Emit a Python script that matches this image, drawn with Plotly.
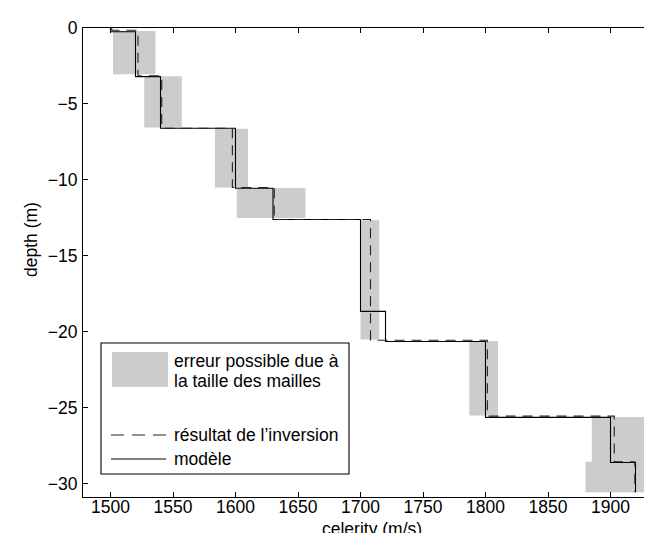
import plotly.graph_objects as go

# ---------------- data ----------------
# true model (solid line): celerity per layer and layer boundaries (depth, m)
model_celerity = [1500, 1520, 1540, 1600, 1630, 1700, 1720, 1800, 1900, 1920]
model_bounds = [0, -0.25, -3.2, -6.6, -10.55, -12.6, -18.65, -20.63, -25.63, -28.6, -30.55]

# inversion result (dashed line)
inv_celerity = [1501, 1522, 1541, 1597.5, 1631, 1708, 1801.5, 1903, 1919.5]
inv_bounds = [0, -0.15, -3.15, -6.6, -10.5, -12.6, -20.55, -25.55, -28.55, -30.55]

# possible error due to mesh size (grey boxes)
box_left = [1502, 1527, 1583.5, 1601, 1700, 1700, 1787, 1885, 1880]
box_right = [1536, 1557, 1610, 1656, 1715, 1715, 1810, 1927, 1929.5]
box_top = [-0.2, -3.18, -6.63, -10.53, -12.65, -18.6, -20.6, -25.6, -28.55]
box_bottom = [-3.05, -6.55, -10.5, -12.5, -18.6, -20.5, -25.5, -28.55, -30.55]

x_ticks = [1500, 1550, 1600, 1650, 1700, 1750, 1800, 1850, 1900]
y_ticks = [0, -5, -10, -15, -20, -25, -30]

legend_labels = ["erreur possible due à", "la taille des mailles",
                 "résultat de l’inversion", "modèle"]
x_title = "celerity (m/s)"
y_title = "depth (m)"


def step_xy(vals, bounds):
    xs, ys = [], []
    for i, v in enumerate(vals):
        xs += [v, v]
        ys += [bounds[i], bounds[i + 1]]
    return xs, ys


bx, by = [], []
for l, r, t, b in zip(box_left, box_right, box_top, box_bottom):
    bx += [l, r, r, l, l, None]
    by += [t, t, b, b, t, None]

mx, my = step_xy(model_celerity, model_bounds)
ix, iy = step_xy(inv_celerity, inv_bounds)

FONT = "Liberation Sans, Arial, Helvetica, sans-serif"
FS = 17.5
GREY = "#cccccc"

fig = go.Figure()
fig.add_trace(go.Scatter(x=bx, y=by, mode="lines", fill="toself", fillcolor=GREY,
                         line=dict(width=0, color=GREY), hoverinfo="skip",
                         showlegend=False))
fig.add_trace(go.Scatter(x=mx, y=my, mode="lines", line=dict(color="black", width=1.1),
                         showlegend=False))
fig.add_trace(go.Scatter(x=ix, y=iy, mode="lines",
                         line=dict(color="#222222", width=1.1, dash="10px,7px"),
                         showlegend=False))

W, H = 652, 533
ML, MR, MT, MB = 75, 0, 20, 44
PW, PH = W - ML - MR, H - MT - MB


def px(xp):
    return (xp - ML) / PW


def py(yp):
    return (H - MB - yp) / PH


shapes = [
    # legend frame
    dict(type="rect", xref="paper", yref="paper", x0=px(93), x1=px(341), y0=py(335), y1=py(466),
         line=dict(color="black", width=1.1), fillcolor="white", layer="above"),
    # grey swatch
    dict(type="rect", xref="paper", yref="paper", x0=px(104), x1=px(160), y0=py(344), y1=py(379),
         line=dict(width=0), fillcolor=GREY, layer="above"),
    # dashed sample
    dict(type="line", xref="paper", yref="paper", x0=px(103), x1=px(158), y0=py(427), y1=py(427),
         line=dict(color="#222222", width=1.1, dash="13px,8px"), layer="above"),
    # solid sample
    dict(type="line", xref="paper", yref="paper", x0=px(103), x1=px(158), y0=py(451), y1=py(451),
         line=dict(color="black", width=1.1), layer="above"),
]

ann = []
for lab, yy in zip(legend_labels, [353, 373, 427, 451]):
    ann.append(dict(text=lab, xref="paper", yref="paper", x=px(164), y=py(yy),
                    xanchor="left", yanchor="middle", showarrow=False,
                    font=dict(family=FONT, size=FS, color="black")))
ann.append(dict(text=x_title, xref="paper", yref="paper", x=0.5, y=py(509),
                xanchor="center", yanchor="top", showarrow=False,
                font=dict(family=FONT, size=FS, color="black")))
ann.append(dict(text=y_title, xref="paper", yref="paper", x=px(23), y=py(232),
                xanchor="center", yanchor="middle", textangle=-90, showarrow=False,
                font=dict(family=FONT, size=FS, color="black")))

fig.update_layout(
    width=W, height=H, autosize=False,
    margin=dict(l=ML, r=MR, t=MT, b=MB, pad=0),
    paper_bgcolor="white", plot_bgcolor="white",
    font=dict(family=FONT, size=FS, color="black"),
    shapes=shapes, annotations=ann, showlegend=False,
)
fig.update_xaxes(range=[1478, 1478 + PW / 1.25], tickvals=x_ticks, ticks="inside",
                 ticklen=5, tickcolor="black", showline=True, linecolor="black",
                 linewidth=1.1, mirror="ticks", showgrid=False, zeroline=False,
                 ticklabelstandoff=-6,
                 tickfont=dict(family=FONT, size=FS, color="black"))
fig.update_yaxes(range=[-30.87, 0], tickvals=y_ticks, ticks="inside",
                 ticklen=5, tickcolor="black", showline=True, linecolor="black",
                 linewidth=1.1, mirror=False, showgrid=False, zeroline=False,
                 ticklabelstandoff=1,
                 tickfont=dict(family=FONT, size=FS, color="black"))

fig.write_html("out.html")
